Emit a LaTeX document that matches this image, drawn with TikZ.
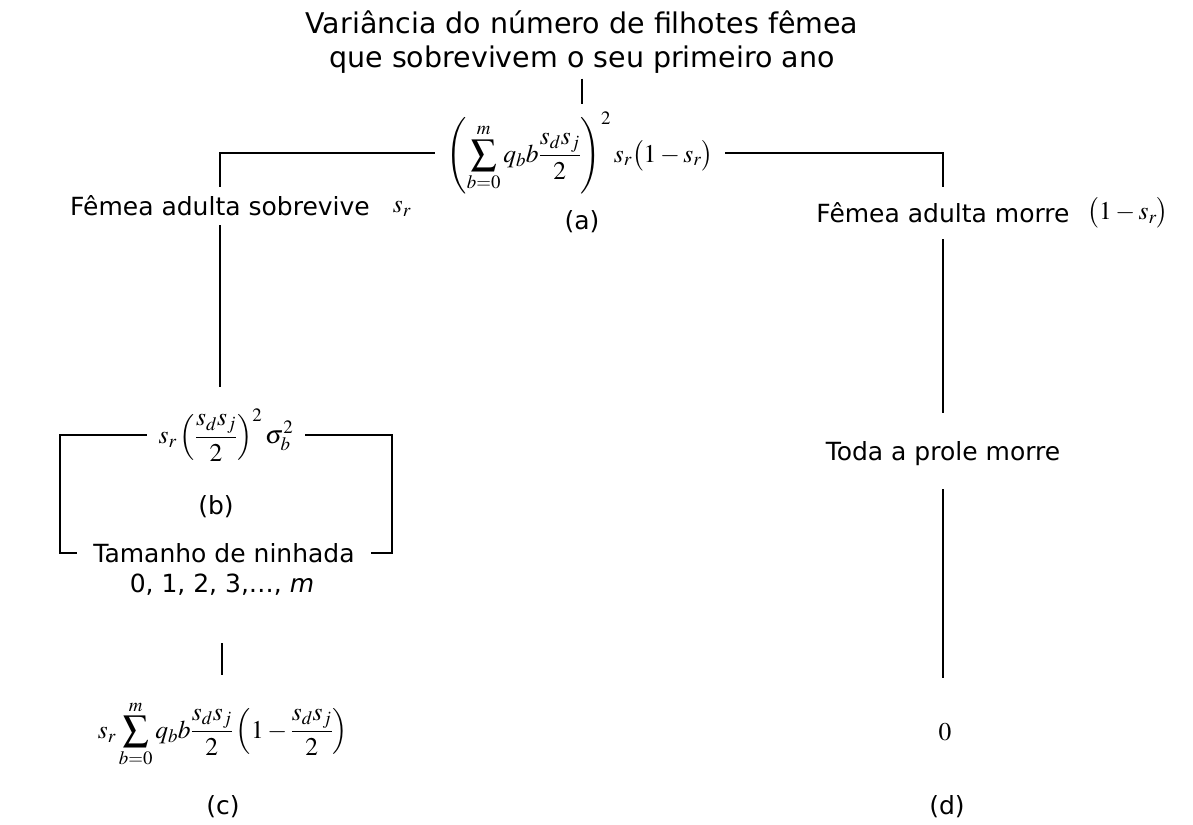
\documentclass[tikz,border=0pt]{standalone}
\usepackage{mathptmx}
\usepackage[no-math]{fontspec}
\setmainfont{DejaVu Sans}

\tikzset{
  txt/.style={font=\fontsize{25}{30}\selectfont, inner xsep=0pt, inner ysep=10pt, text height=18pt, text depth=0pt},
  eq/.style={font=\fontsize{25.5}{30}\selectfont, inner xsep=12pt, inner ysep=8pt},
  tag/.style={font=\fontsize{25}{30}\selectfont, inner sep=0pt},
  link/.style={line width=2.6pt},
}

\begin{document}
\begin{tikzpicture}[x=1pt,y=-1pt]
  \useasboundingbox (0,0) rectangle (1193,824);

  \node[font=\fontsize{28.5}{34}\selectfont, align=center, inner sep=5pt] (title) at (582,42)
    {Variância do número de filhotes fêmea\\que sobrevivem o seu primeiro ano};

  % (a)
  \node[eq] (fa) at (580,153)
    {$\displaystyle\left(\sum_{b=0}^{m} q_b b\frac{s_d s_j}{2}\right)^{2} s_r\bigl(1-s_r\bigr)$};
  \node[tag] (la) at (582,222) {(a)};

  % left branch
  \node[txt] (surv) at (220,206) {Fêmea adulta sobrevive};
  \node[eq, inner sep=0pt] (survp) at (402,209) {$s_r$};
  \node[eq, inner ysep=22pt] (fb) at (226,435)
    {$\displaystyle s_r\left(\frac{s_d s_j}{2}\right)^{2}\sigma_b^{2}$};
  \node[tag] (lb) at (216,507) {(b)};
  \node[txt, inner xsep=16pt, inner ysep=0pt] (litter) at (224,553) {Tamanho de ninhada};
  \node[txt, inner ysep=51pt] (sizes) at (222,583) {0, 1, 2, 3,…, \textit{m}};
  \node[eq, inner ysep=25pt] (fc) at (223,734)
    {$\displaystyle s_r\sum_{b=0}^{m} q_b b\frac{s_d s_j}{2}\left(1-\frac{s_d s_j}{2}\right)$};
  \node[tag] (lc) at (223,807) {(c)};

  % right branch
  \node[txt, inner ysep=17pt] (dies) at (943,213) {Fêmea adulta morre};
  \node[eq, inner sep=0pt] (diesp) at (1128,213) {$\bigl(1-s_r\bigr)$};
  \node[txt, inner ysep=29pt] (lost) at (943,451) {Toda a prole morre};
  \node[eq, inner ysep=45pt] (zero) at (945,732) {$0$};
  \node[tag] (ld) at (947,807) {(d)};

  \coordinate (bl) at (60,435);
  \coordinate (br) at (392,435);

  \draw[link] (title.south) -- (title.south |- fa.north);
  \draw[link] (fa.west) -| (surv.north);
  \draw[link] (fa.east) -| (dies.north);
  \draw[link] (surv.south) -- (surv.south |- fb.north);
  \draw[link] (fb.west) -- (bl) |- (litter.west);
  \draw[link] (fb.east) -- (br) |- (litter.east);
  \draw[link] (sizes.south) -- (sizes.south |- fc.north);
  \draw[link] (dies.south) -- (lost.north);
  \draw[link] (lost.south) -- (lost.south |- zero.north);
\end{tikzpicture}
\end{document}
